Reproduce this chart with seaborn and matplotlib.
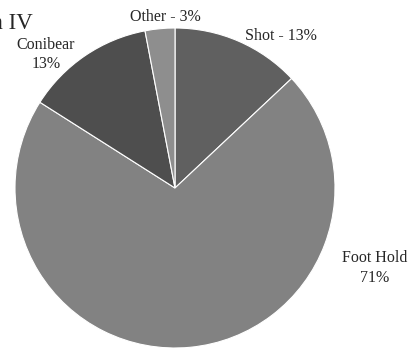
import matplotlib
matplotlib.use("Agg")
import matplotlib.pyplot as plt
import seaborn as sns

# Trap type shares (percent), clockwise from 12 o'clock
categories = ["Shot", "Foot Hold", "Conibear", "Other"]
shares = [13, 71, 13, 3]
slice_colors = ["#606060", "#828282", "#4e4e4e", "#8e8e8e"]
title_text = "Region IV"

sns.set_theme(style="white")
plt.rcParams["font.family"] = ["Liberation Serif", "DejaVu Serif"]

W, H = 418, 350
fig = plt.figure(figsize=(W / 100, H / 100), dpi=100)
ax = fig.add_axes([0, 0, 1, 1])

cx, cy, r = 175, H - 188, 160
ax.pie(shares, colors=slice_colors, startangle=90, counterclock=False,
       center=(cx, cy), radius=r, frame=True,
       wedgeprops=dict(edgecolor="white", linewidth=0.8))
ax.set_xlim(0, W)
ax.set_ylim(0, H)
ax.set_aspect("equal")
ax.axis("off")

lab = dict(zip(categories, shares))
fs = 11.5
ax.text(281, H - 36, f"Shot - {lab['Shot']}%", ha="center", va="center", fontsize=fs)
ax.text(165, H - 17, f"Other - {lab['Other']}%", ha="center", va="center", fontsize=fs)
ax.text(46, H - 45, "Conibear", ha="center", va="center", fontsize=fs)
ax.text(46, H - 64, f"{lab['Conibear']}%", ha="center", va="center", fontsize=fs)
ax.text(375, H - 258, "Foot Hold", ha="center", va="center", fontsize=fs)
ax.text(375, H - 278, f"{lab['Foot Hold']}%", ha="center", va="center", fontsize=fs)

ax.text(33, H - 29, title_text, ha="right", va="baseline", fontsize=16.5)

fig.savefig("out.png", dpi=100, facecolor="white")
